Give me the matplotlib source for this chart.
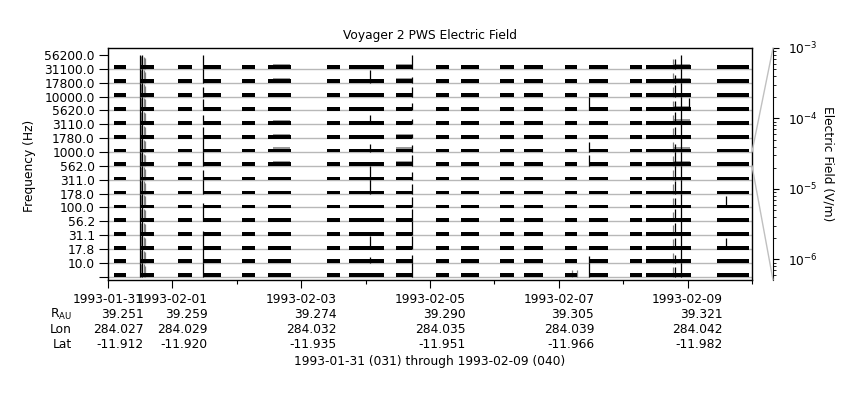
import numpy as np
import matplotlib
matplotlib.use('Agg')
import matplotlib.pyplot as plt
from matplotlib.patches import ConnectionPatch

# channel centre frequencies, bottom row to top row
freq_labels = ['10.0', '17.8', '31.1', '56.2', '100.0', '178.0', '311.0', '562.0',
               '1000.0', '1780.0', '3110.0', '5620.0', '10000.0', '17800.0', '31100.0', '56200.0']

# data coverage, days after 1993-01-31 00:00
seg_start = [0.09, 0.49, 1.09, 1.48, 2.08, 2.48, 3.40, 3.74, 4.47, 5.09, 5.48, 6.09,
             6.46, 7.10, 7.47, 8.10, 8.35, 9.46]
seg_end = [0.28, 0.71, 1.30, 1.75, 2.28, 2.84, 3.60, 4.28, 4.72, 5.30, 5.76, 6.30,
           6.75, 7.29, 7.76, 8.29, 9.05, 9.96]

# background field per channel (V/m)
bg_field = [3.2e-6, 3.2e-6, 3.2e-6, 3.2e-6, 3.2e-6, 1.8e-6, 1.8e-6, 1.8e-6,
            3.2e-6, 3.2e-6, 3.2e-6, 3.2e-6, 3.2e-6, 3.2e-6, 3.2e-6, 3.2e-6]

# bursts: day, colour, field per channel (V/m, 0 = nothing)
burst_day = [0.49, 0.51, 0.535, 0.56, 0.58, 1.48, 4.07, 4.72, 7.47, 8.77, 8.80, 8.90, 9.02, 9.60, 7.21, 7.28]
burst_color = ['k', '0.5', 'k', '0.5', '0.5', 'k', 'k', 'k', 'k', '0.5', 'k', 'k', 'k', 'k', '0.5', '0.5']
burst_field = [
    [1e-3] * 16,
    [5e-4] * 16,
    [1e-3] * 16,
    [4e-4] * 16,
    [2e-4] * 16,
    [1e-3, 1e-3, 1e-3, 4.7e-6, 1e-3, 4.7e-6, 1e-3, 1e-4, 1e-3, 1e-3, 2.2e-4, 7e-5, 2.2e-4, 1e-4, 1e-3, 1e-3],
    [0, 1e-5, 4.8e-4, 0, 0, 0, 1e-3, 1e-3, 0, 4.7e-5, 0, 7e-5, 0, 0, 4.8e-4, 0],
    [1e-3, 3e-5, 4.8e-4, 1e-3, 4.8e-4, 1.5e-4, 1e-4, 3e-5, 2.2e-4, 2.2e-5, 4.7e-6, 1e-5, 2.2e-5, 1e-4, 1e-5, 1e-3],
    [1e-3, 2.2e-5, 0, 0, 0, 0, 0, 0, 2.2e-4, 1e-4, 0, 0, 1e-3, 0, 0, 0],
    [1e-4, 1e-4, 1e-4, 1e-4, 1e-4, 1e-4, 1e-4, 1e-4, 1e-4, 1e-4, 1e-4, 1e-4, 1e-4, 1e-4, 1e-4, 1e-4],
    [1e-4, 3e-5, 2.2e-4, 4.8e-4, 4.8e-4, 1e-4, 4.8e-4, 1e-3, 1e-3, 3e-5, 2.2e-4, 4.8e-4, 1e-4, 2.2e-4, 3e-5, 1e-4],
    [1e-3] * 16,
    [0, 0, 0, 0, 0, 0, 0, 0, 0, 0, 0, 0, 4.8e-4, 0, 0, 0],
    [0, 0, 2.2e-4, 0, 0, 2.2e-4, 0, 0, 0, 0, 0, 0, 0, 0, 0, 0],
    [1.5e-5, 0, 0, 0, 0, 0, 0, 0, 0, 0, 0, 0, 0, 0, 0, 0],
    [1.5e-5, 0, 0, 0, 0, 0, 0, 0, 0, 0, 0, 0, 0, 0, 0, 0],
]

# enhanced (grey) emission intervals: start, end, channels, field
haze_start = [2.56, 4.47, 8.78]
haze_end = [2.83, 4.72, 9.04]
haze_chans = [[8, 9, 10, 11, 14, 15], [8, 9, 10, 14, 15], [8, 9, 11, 12, 14, 15]]
haze_field = [6e-6, 6e-6, 7e-6]

# trajectory table
tick_days = [0, 1, 3, 5, 7, 9]
date_labels = ['1993-01-31', '1993-02-01', '1993-02-03', '1993-02-05', '1993-02-07', '1993-02-09']
r_au = ['39.251', '39.259', '39.274', '39.290', '39.305', '39.321']
lon = ['284.027', '284.029', '284.032', '284.035', '284.039', '284.042']
lat = ['-11.912', '-11.920', '-11.935', '-11.951', '-11.966', '-11.982']

E_MIN, E_MAX = 5.1e-7, 1e-3
FS = 8.8


def band(e):
    # map a field value onto the 0..1 height of one channel row
    return (np.log10(e) - np.log10(E_MIN)) / (np.log10(E_MAX) - np.log10(E_MIN))


fig = plt.figure(figsize=(8.6, 4.0), dpi=100)
W, H = 860.0, 400.0
ax = fig.add_axes([108 / W, 1 - 280 / H, (752 - 108) / W, (280 - 48) / H])

n = len(freq_labels)
for i in range(n):
    ax.axhline(i, color='#b8b8b8', lw=1.0, zorder=1)

# grey haze behind the bars
for s, e, chans, f in zip(haze_start, haze_end, haze_chans, haze_field):
    for c in chans:
        ax.broken_barh([(s, e - s)], (c - 0.04, band(f) + 0.04), facecolor='0.6', edgecolor='none', zorder=2)

for i in range(n):
    h = band(bg_field[i])
    ax.broken_barh([(s, e - s) for s, e in zip(seg_start, seg_end)], (i - 0.04, h + 0.04),
                   facecolor='k', edgecolor='none', zorder=3)

for d, col, fields in zip(burst_day, burst_color, burst_field):
    for i, f in enumerate(fields):
        if f > 0:
            ax.vlines(d, i, i + band(f), color=col, lw=0.9, zorder=4 if col == 'k' else 2.5)

ax.set_xlim(0, 10)
ax.set_ylim(-0.24, 16.5)
ax.set_yticks(np.arange(0, n + 1))
ax.set_yticklabels([''] + freq_labels)
ax.set_xticks(tick_days)
ax.set_xticklabels(date_labels)
ax.set_xticks([2, 4, 6, 8, 10], minor=True)
ax.tick_params(axis='y', length=6.5, width=0.8, pad=3, labelsize=FS)
ax.tick_params(axis='x', which='major', length=5.5, width=0.8, pad=4, labelsize=FS)
ax.tick_params(axis='x', which='minor', length=3, width=0.8)
for sp in ax.spines.values():
    sp.set_linewidth(1.0)

# scale axis for one channel row
ax2 = fig.add_axes([772 / W, 1 - 280 / H, 1 / W, (280 - 48) / H])
ax2.set_yscale('log')
ax2.set_ylim(E_MIN, E_MAX)
ax2.set_xticks([])
for k in ['left', 'top', 'bottom']:
    ax2.spines[k].set_visible(False)
ax2.spines['right'].set_linewidth(0.8)
ax2.yaxis.tick_right()
ax2.tick_params(axis='y', which='major', length=4, width=0.8, pad=7, labelsize=FS)
ax2.tick_params(axis='y', which='minor', length=2.5, width=0.6)
ax2.patch.set_visible(False)

for ya, yb in [(9, 1), (8, 0)]:
    con = ConnectionPatch(xyA=(1, ya), coordsA=ax.get_yaxis_transform(),
                          xyB=(1, yb), coordsB=ax2.transAxes,
                          color='#c0c0c0', lw=1.0)
    fig.add_artist(con)

fig.text(430 / W, 1 - 35 / H, 'Voyager 2 PWS Electric Field', ha='center', va='center', fontsize=FS)
fig.text(30 / W, 1 - 166 / H, 'Frequency (Hz)', ha='center', va='center', rotation=90, fontsize=FS)
fig.text(828 / W, 1 - 164 / H, 'Electric Field (V/m)', ha='center', va='center', rotation=-90, fontsize=FS)

row_y = [314.3, 329.3, 344.3]
row_names = [r'R$_{\mathregular{AU}}$', 'Lon', 'Lat']
for name, yy in zip(row_names, row_y):
    fig.text(72 / W, 1 - yy / H, name, ha='right', va='center', fontsize=FS)

fig.canvas.draw()
renderer = fig.canvas.get_renderer()
for j, lbl in enumerate(ax.get_xticklabels()):
    bb = lbl.get_window_extent(renderer)
    xr = bb.x1 / W
    for vals, yy in zip([r_au, lon, lat], row_y):
        fig.text(xr, 1 - yy / H, vals[j], ha='right', va='center', fontsize=FS)

fig.text(430 / W, 1 - 361 / H, '1993-01-31 (031) through 1993-02-09 (040)', ha='center', va='center', fontsize=FS)

fig.savefig('out.png', dpi=100)
